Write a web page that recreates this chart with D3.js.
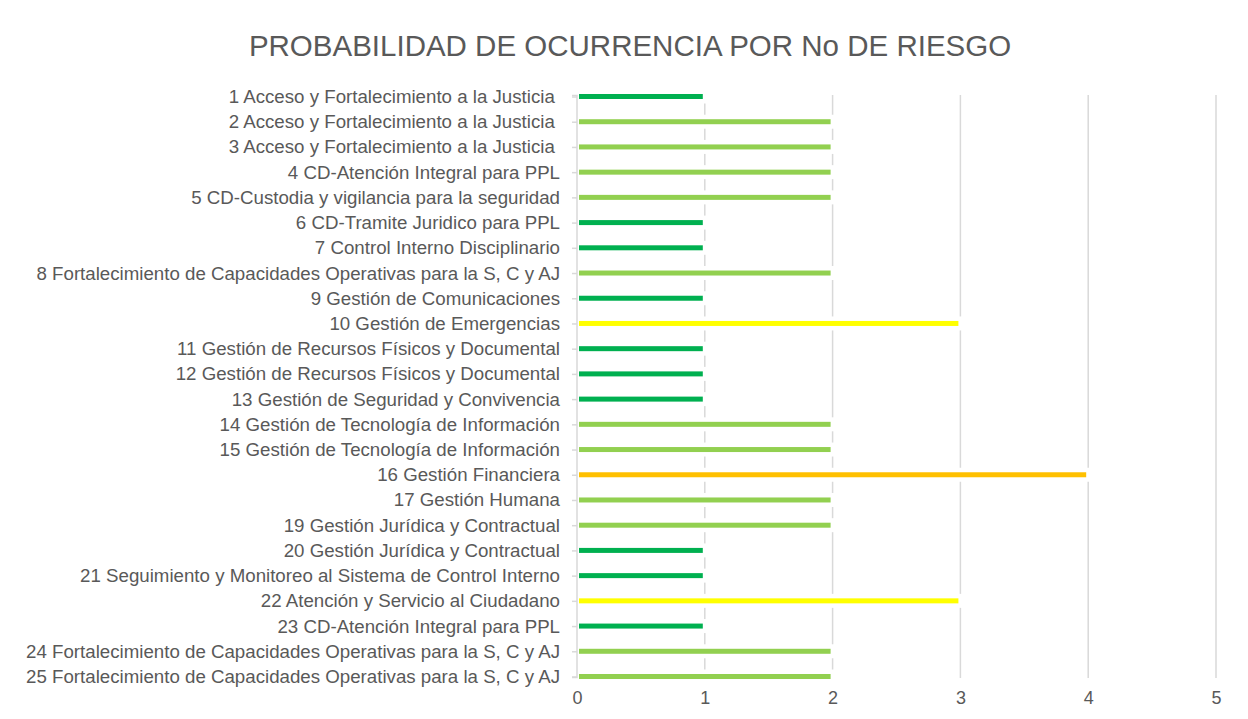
<!DOCTYPE html>
<html lang="es">
<head>
    <meta charset="UTF-8">
    <title>Probabilidad de ocurrencia</title>
    <script src="https://cdn.jsdelivr.net/npm/d3@7"></script>
    <style>
        body { margin: 0; background: #fff; }
        text { font-family: "Liberation Sans", Arial, sans-serif; fill: #595959; }
    </style>
</head>
<body>
<div id="chart"></div>
<script>
    var width = 1248;
    var height = 719;

    const categories = [
        "1 Acceso y Fortalecimiento a la Justicia ",
        "2 Acceso y Fortalecimiento a la Justicia ",
        "3 Acceso y Fortalecimiento a la Justicia ",
        "4 CD-Atención Integral para PPL",
        "5 CD-Custodia y vigilancia para la seguridad",
        "6 CD-Tramite Juridico para PPL",
        "7 Control Interno Disciplinario",
        "8 Fortalecimiento de Capacidades Operativas para la S, C y AJ",
        "9 Gestión de Comunicaciones",
        "10 Gestión de Emergencias",
        "11 Gestión de Recursos Físicos y Documental",
        "12 Gestión de Recursos Físicos y Documental",
        "13 Gestión de Seguridad y Convivencia",
        "14 Gestión de Tecnología de Información",
        "15 Gestión de Tecnología de Información",
        "16 Gestión Financiera",
        "17 Gestión Humana",
        "19 Gestión Jurídica y Contractual",
        "20 Gestión Jurídica y Contractual",
        "21 Seguimiento y Monitoreo al Sistema de Control Interno",
        "22 Atención y Servicio al Ciudadano",
        "23 CD-Atención Integral para PPL",
        "24 Fortalecimiento de Capacidades Operativas para la S, C y AJ",
        "25 Fortalecimiento de Capacidades Operativas para la S, C y AJ"
    ];
    const values = [1, 2, 2, 2, 2, 1, 1, 2, 1, 3, 1, 1, 1, 2, 2, 4, 2, 2, 1, 1, 3, 1, 2, 2];
    const xTicks = [0, 1, 2, 3, 4, 5];
    const levelColors = {1: "#00B050", 2: "#92D050", 3: "#FFFF00", 4: "#FFC000"};

    var margin = {top: 96, right: 32, bottom: 42, left: 577};

    var svg = d3.select("#chart").append("svg")
        .attr("width", width)
        .attr("height", height);

    var xScale = d3.scaleLinear()
        .domain([0, 5])
        .range([margin.left, 1216]);

    var yScale = d3.scalePoint()
        .domain(categories)
        .range([96.5, 676.5]);

    // title
    svg.append("text")
        .attr("x", 630)
        .attr("y", 56)
        .attr("text-anchor", "middle")
        .style("font-size", "29.5px")
        .text("PROBABILIDAD DE OCURRENCIA POR No DE RIESGO");

    // vertical gridlines
    svg.append("g")
        .selectAll("line")
        .data(xTicks.slice(1))
        .join("line")
        .attr("x1", d => xScale(d))
        .attr("x2", d => xScale(d))
        .attr("y1", 95)
        .attr("y2", 678)
        .attr("stroke", "#d9d9d9")
        .attr("stroke-width", 1.5);

    // white halo behind each bar
    svg.append("g")
        .selectAll("rect")
        .data(values)
        .join("rect")
        .attr("x", xScale(0) + 1)
        .attr("y", (d, i) => yScale(categories[i]) - 7)
        .attr("width", d => xScale(d) - xScale(0) + 2)
        .attr("height", 14)
        .attr("fill", "#fff");

    // bars
    svg.append("g")
        .selectAll("rect")
        .data(values)
        .join("rect")
        .attr("x", xScale(0) + 2)
        .attr("y", (d, i) => yScale(categories[i]) - 2.5)
        .attr("width", d => xScale(d) - xScale(0) - 4)
        .attr("height", 5)
        .attr("fill", d => levelColors[d]);

    // y axis
    var yAxis = svg.append("g")
        .attr("transform", "translate(" + xScale(0) + ",0)")
        .call(d3.axisLeft(yScale).tickSize(5).tickPadding(12));
    yAxis.select(".domain")
        .attr("stroke", "#d9d9d9")
        .attr("stroke-width", 1.5)
        .attr("d", "M-5,95.5H0V677.5H-5");
    yAxis.selectAll(".tick line")
        .attr("stroke", "#d9d9d9")
        .attr("stroke-width", 1.5);
    yAxis.selectAll(".tick text")
        .style("font-size", "18.7px")
        .style("fill", "#595959")
        .attr("x", -17)
        .style("white-space", "pre");

    // x axis labels
    var xAxis = svg.append("g")
        .attr("transform", "translate(0,688)")
        .call(d3.axisBottom(xScale).tickValues(xTicks).tickFormat(d3.format("d")).tickSize(0).tickPadding(3));
    xAxis.select(".domain").remove();
    xAxis.selectAll(".tick text")
        .style("font-size", "18px")
        .style("fill", "#595959");
</script>
</body>
</html>
